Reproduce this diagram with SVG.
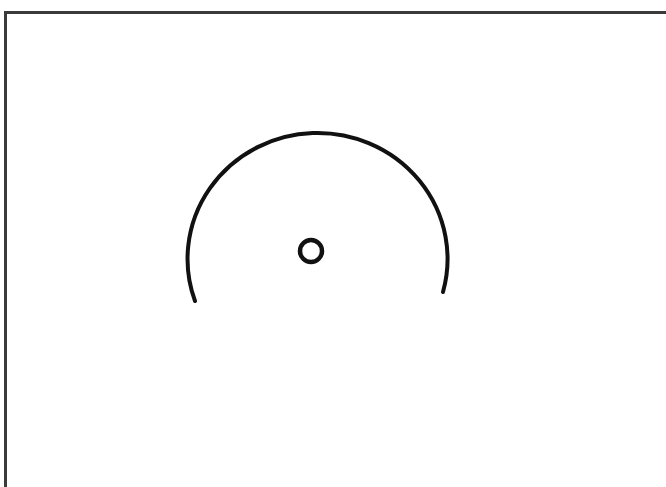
<svg xmlns="http://www.w3.org/2000/svg" width="666" height="487" viewBox="0 0 666 487">
<style>
.frame{fill:none;stroke:#3a3a3a;stroke-width:3}
.ink{fill:none;stroke:#111;stroke-width:4;stroke-linecap:round}
</style>
<rect width="666" height="487" fill="#fff"/>
<path class="frame" d="M5.5 490 V12.5 H670"/>
<path class="ink" d="M195 301 A130 126 0 1 1 443 292"/>
<circle class="ink" cx="311" cy="251" r="11" style="stroke-width:4.5"/>
</svg>
